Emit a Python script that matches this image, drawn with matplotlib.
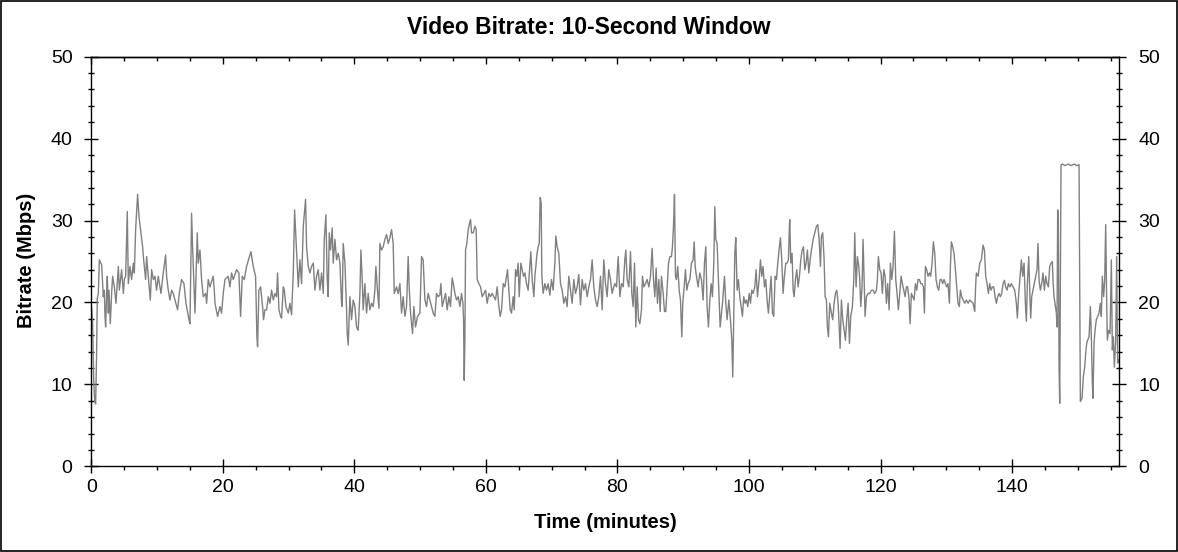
import matplotlib
matplotlib.use("Agg")
import matplotlib.pyplot as plt
from matplotlib.patches import Rectangle
from matplotlib.ticker import MultipleLocator
import numpy as np

# values, minutes vs Mbps, split by stretch of the film
t_00_26 = [0.05, 0.2, 0.36, 0.51, 0.66, 0.81, 0.91, 1.07, 1.22, 1.57, 1.83, 1.98, 2.08, 2.18, 2.33,
           2.43, 2.59, 2.69, 2.89, 3.09, 3.24, 3.5, 3.75, 4.11, 4.26, 4.61, 4.87, 5.02, 5.22, 5.47,
           5.63, 5.88, 6.13, 6.39, 6.54, 6.74, 7.04, 7.25, 7.55, 7.8, 7.96, 8.26, 8.41, 8.66, 8.97,
           9.17, 9.43, 9.68, 9.93, 10.18, 10.59, 10.94, 11.3, 11.45, 11.7, 11.96, 12.21, 12.46, 13.12,
           13.38, 13.73, 14.09, 14.39, 14.85, 15.0, 15.25, 15.4, 15.76, 16.11, 16.26, 16.52, 16.77,
           17.02, 17.38, 17.53, 17.78, 18.04, 18.54, 18.7, 18.8, 19.2, 19.56, 19.81, 20.06, 20.32,
           20.82, 21.08, 21.33, 21.58, 22.09, 22.44, 22.7, 22.95, 23.25, 23.61, 24.27, 24.62, 24.98,
           25.18, 25.28, 25.48, 25.74, 26.04, 26.19, 26.4]
v_00_26 = [19.3, 17.5, 10.5, 8.0, 7.6, 14.0, 20.5, 21.1, 25.2, 24.6, 20.7, 21.5, 18.3, 17.0, 21.1,
           23.2, 18.7, 21.5, 17.4, 21.1, 23.2, 21.9, 19.9, 24.4, 21.5, 24.0, 21.1, 22.8, 23.2, 31.1,
           22.3, 24.4, 22.8, 24.8, 23.6, 28.9, 33.2, 30.5, 28.5, 26.8, 25.2, 22.8, 25.6, 23.2, 20.3,
           24.0, 22.8, 23.2, 21.5, 23.2, 21.1, 23.6, 25.8, 23.2, 21.5, 20.3, 21.5, 21.1, 19.1,
           21.1, 22.8, 22.3, 19.9, 17.9, 17.4, 30.9, 26.8, 18.7, 28.5, 24.8, 26.4, 22.8,
           20.7, 21.1, 19.9, 22.8, 21.9, 23.2, 21.5, 19.9, 18.3, 19.5, 18.7, 21.1, 22.8,
           23.2, 21.9, 23.6, 22.8, 24.0, 23.6, 18.3, 23.2, 22.8, 24.4, 26.2, 24.4, 23.2,
           15.8, 14.6, 21.5, 21.9, 19.5, 17.9, 19.1]

t_26_53 = [26.65, 26.91, 27.16, 27.41, 27.67, 27.92, 28.17, 28.32, 28.53, 28.78, 28.93, 29.19, 29.34,
           29.59, 29.95, 30.2, 30.45, 30.71, 30.91, 31.21, 31.47, 31.72, 31.97, 32.23, 32.58, 32.73,
           32.99, 33.24, 33.49, 33.75, 34.0, 34.25, 34.5, 34.76, 35.01, 35.27, 35.42, 35.67, 35.87,
           36.02, 36.18, 36.38, 36.63, 36.78, 37.04, 37.29, 37.55, 37.8, 38.05, 38.15, 38.3, 38.56,
           38.81, 38.91, 39.06, 39.32, 39.57, 39.82, 40.08, 40.33, 40.58, 40.84, 40.99, 41.19, 41.34,
           41.6, 41.85, 42.1, 42.36, 42.61, 42.86, 43.12, 43.27, 43.47, 43.73, 43.88, 44.13, 44.38,
           44.64, 44.89, 45.14, 45.4, 45.65, 45.9, 46.06, 46.41, 46.66, 46.92, 47.17, 47.42, 47.68,
           47.93, 48.18, 48.33, 48.54, 48.84, 49.04, 49.3, 49.6, 49.96, 50.21, 50.46, 50.72, 50.97,
           51.22, 51.48, 51.73, 51.98, 52.24, 52.49, 52.74, 53.0]
v_26_53 = [19.1, 20.7, 19.9, 21.5, 20.3, 21.1, 20.7, 23.6, 19.1, 18.3, 18.1, 21.9, 21.5,
           19.5, 18.7, 19.9, 18.5, 23.6, 31.3, 26.4, 21.9, 25.2, 22.3, 29.3, 32.6, 26.8,
           24.4, 23.6, 24.4, 24.8, 21.5, 23.2, 24.0, 21.5, 23.6, 21.1, 27.7, 30.7, 22.8,
           20.7, 28.5, 26.4, 29.1, 24.8, 27.7, 25.2, 26.0, 24.8, 19.9, 19.5, 27.2, 24.8,
           19.1, 16.2, 14.8, 20.7, 17.9, 20.3, 19.5, 17.0, 16.6, 21.1, 26.4, 22.8, 19.1,
           22.3, 18.7, 21.1, 19.1, 19.9, 19.5, 21.5, 24.4, 21.9, 19.3, 27.2, 26.4, 26.8,
           27.7, 28.3, 27.2, 27.9, 28.9, 27.2, 21.1, 21.9, 21.1, 22.3, 18.7, 20.7, 18.3,
           19.5, 25.6, 21.9, 18.7, 16.2, 19.5, 17.0, 18.3, 18.7, 25.6, 25.2, 20.3, 19.5,
           21.1, 20.3, 19.5, 18.7, 18.3, 21.1, 20.7, 20.9]

t_53_79 = [53.15, 53.35, 53.61, 53.86, 54.11, 54.37, 54.62, 54.87, 55.13, 55.28, 55.53, 55.79, 56.04,
           56.29, 56.5, 56.6, 56.7, 56.8, 56.9, 57.1, 57.31, 57.51, 57.66, 57.81, 58.07, 58.32, 58.52,
           58.67, 58.93, 59.18, 59.43, 59.69, 59.94, 60.19, 60.45, 60.7, 60.95, 61.21, 61.46, 61.71,
           61.97, 62.17, 62.37, 62.63, 62.88, 63.13, 63.28, 63.49, 63.69, 63.89, 64.14, 64.3, 64.5,
           64.7, 64.9, 65.06, 65.31, 65.51, 65.71, 65.92, 66.17, 66.42, 66.68, 66.83, 67.03, 67.29,
           67.44, 67.59, 67.74, 67.94, 68.1, 68.25, 68.4, 68.5, 68.7, 68.96, 69.21, 69.46, 69.72,
           69.97, 70.22, 70.48, 70.63, 70.83, 71.08, 71.34, 71.59, 71.84, 72.1, 72.35, 72.6, 72.86,
           73.11, 73.36, 73.62, 73.87, 74.12, 74.38, 74.63, 74.88, 75.14, 75.39, 75.64, 75.9, 76.15,
           76.4, 76.66, 76.91, 77.16, 77.42, 77.67, 77.92, 78.18, 78.43, 78.68, 78.94, 79.19, 79.44]
v_53_79 = [22.3, 19.5, 20.3, 21.1, 19.1, 20.7, 19.5, 23.0, 21.9, 21.1, 20.3, 20.7, 19.5,
           21.1, 19.9, 17.9, 10.5, 15.4, 26.4, 27.2, 28.9, 29.7, 30.1, 28.5, 28.5, 29.3, 28.9,
           22.8, 22.3, 21.9, 20.7, 21.1, 21.5, 19.9, 21.1, 20.7, 21.1, 20.7, 20.3, 21.9,
           19.5, 18.3, 19.1, 22.3, 21.9, 23.2, 24.0, 21.5, 19.1, 18.7, 20.7, 19.1, 24.0,
           23.2, 24.8, 20.7, 24.8, 24.0, 23.2, 23.6, 22.3, 21.5, 24.4, 26.2, 22.8, 20.7,
           23.2, 24.4, 25.8, 26.8, 27.2, 32.8, 32.1, 23.2, 21.1, 22.3, 21.5, 22.3, 20.9,
           22.8, 21.5, 24.8, 28.1, 26.8, 26.0, 22.3, 21.5, 19.9, 20.7, 19.5, 23.2, 21.5,
           19.9, 22.8, 21.1, 21.9, 23.4, 19.7, 22.8, 21.5, 22.3, 20.7, 21.9, 22.8, 25.2,
           21.9, 20.3, 19.5, 20.7, 23.2, 19.1, 25.2, 22.3, 20.7, 24.0, 22.8, 21.1, 21.9]

t_79_106 = [79.6, 79.85, 80.11, 80.36, 80.61, 80.87, 81.12, 81.27, 81.47, 81.73, 81.98, 82.18, 82.39,
            82.59, 82.79, 82.99, 83.2, 83.4, 83.65, 83.8, 84.01, 84.26, 84.51, 84.77, 85.02, 85.27,
            85.48, 85.68, 85.88, 86.08, 86.29, 86.49, 86.69, 86.95, 87.15, 87.35, 87.55, 87.76,
            87.96, 88.21, 88.36, 88.52, 88.67, 88.82, 88.97, 89.17, 89.38, 89.58, 89.78, 89.93,
            90.14, 90.34, 90.54, 90.74, 91.0, 91.25, 91.5, 91.66, 91.81, 92.01, 92.26, 92.52, 92.77,
            93.02, 93.23, 93.43, 93.63, 93.83, 94.04, 94.24, 94.44, 94.65, 94.8, 94.95, 95.15, 95.41,
            95.61, 95.81, 96.01, 96.27, 96.47, 96.67, 96.93, 97.18, 97.38, 97.53, 97.69, 97.84, 97.99,
            98.19, 98.39, 98.6, 98.8, 99.0, 99.2, 99.41, 99.61, 99.81, 100.02, 100.22, 100.42, 100.62,
            100.88, 101.08, 101.28, 101.54, 101.74, 101.94, 102.14, 102.35, 102.55, 102.75, 102.95,
            103.16, 103.36, 103.56, 103.76, 103.97, 104.17, 104.37, 104.57, 104.78, 104.98, 105.18,
            105.38, 105.59, 105.79, 105.99, 106.15]
v_79_106 = [22.3, 21.9, 25.6, 20.7, 22.3, 21.9, 25.2, 26.4, 22.8, 21.9, 26.2, 21.1, 19.5,
            24.8, 17.0, 21.9, 17.9, 17.4, 19.1, 23.2, 21.9, 22.3, 22.8, 21.9, 23.2, 26.6,
            22.8, 20.7, 24.2, 19.9, 22.8, 18.9, 23.2, 21.1, 18.9, 18.9, 21.9, 24.8,
            25.6, 25.6, 26.8, 29.3, 33.2, 23.2, 22.8, 24.4, 21.5, 20.3, 15.8, 19.9,
            21.9, 24.0, 21.5, 22.3, 22.8, 24.8, 25.2, 27.4, 24.4, 23.2, 21.9, 23.6, 22.8,
            20.3, 24.8, 26.8, 19.5, 17.0, 20.3, 22.3, 20.7, 24.8, 31.7, 27.7, 27.2, 21.5,
            17.0, 18.7, 20.3, 23.2, 19.9, 17.9, 20.3, 17.9, 15.4, 10.9, 18.7, 26.0, 27.9,
            21.5, 22.8, 20.7, 19.5, 18.3, 20.7, 19.9, 20.3, 19.5, 21.1, 19.9, 21.5, 21.1,
            21.9, 24.0, 20.7, 22.8, 25.2, 23.2, 24.4, 21.9, 22.8, 20.3, 18.7,
            21.1, 23.2, 18.7, 18.3, 23.2, 22.8, 24.8, 26.4, 27.9, 25.2, 21.1,
            23.2, 24.8, 24.8, 25.2, 29.5]

t_106_133 = [106.2, 106.35, 106.55, 106.71, 106.86, 107.06, 107.26, 107.47, 107.67, 107.87, 108.07,
             108.28, 108.48, 108.68, 108.88, 109.09, 109.29, 109.49, 109.75, 110.0, 110.25, 110.46,
             110.66, 110.86, 111.01, 111.21, 111.42, 111.57, 111.77, 111.92, 112.08, 112.28, 112.53,
             112.73, 112.94, 113.14, 113.34, 113.55, 113.7, 113.85, 114.05, 114.25, 114.46, 114.66,
             114.86, 115.07, 115.27, 115.47, 115.72, 115.93, 116.08, 116.28, 116.48, 116.69, 116.84,
             116.99, 117.19, 117.34, 117.5, 117.65, 117.85, 118.1, 118.36, 118.61, 118.86, 119.12,
             119.37, 119.52, 119.67, 119.88, 120.08, 120.28, 120.49, 120.69, 120.89, 121.09, 121.3,
             121.5, 121.7, 121.9, 122.11, 122.31, 122.51, 122.71, 122.92, 123.12, 123.32, 123.53,
             123.73, 123.93, 124.13, 124.34, 124.49, 124.69, 124.89, 125.1, 125.3, 125.5, 125.7,
             125.91, 126.11, 126.31, 126.51, 126.67, 126.82, 127.02, 127.22, 127.43, 127.63, 127.83,
             128.03, 128.24, 128.44, 128.64, 128.84, 129.05, 129.25, 129.45, 129.65, 129.86, 130.06,
             130.26, 130.47, 130.62, 130.77, 130.97, 131.17, 131.38, 131.58, 131.78, 131.98, 132.14,
             132.34, 132.54, 132.8]
v_106_133 = [30.1, 24.8, 26.0, 21.5, 20.7, 22.8, 24.0, 21.9, 23.2, 25.2, 26.4,
             26.8, 24.0, 24.8, 26.4, 23.6, 25.2, 26.4, 27.7, 28.5, 29.3, 29.5,
             27.7, 24.4, 28.1, 28.5, 25.2, 20.7, 20.3, 17.0, 15.8, 19.9, 18.7,
             17.9, 19.9, 21.1, 21.5, 19.9, 17.0, 14.4, 20.3, 17.9, 16.6, 15.4,
             17.9, 19.9, 15.0, 18.3, 19.5, 22.8, 28.5, 21.9, 25.6, 24.4, 22.8,
             19.5, 21.9, 27.7, 22.8, 18.3, 20.7, 21.1, 21.1, 21.5, 21.5, 21.1,
             21.5, 22.8, 25.6, 24.0, 23.6, 21.1, 24.0, 23.2, 19.9, 22.3, 19.1,
             24.8, 22.8, 24.4, 28.7, 22.8, 21.1, 19.1, 21.1, 23.2, 22.3, 21.5,
             20.7, 21.9, 21.9, 20.3, 17.4, 21.1, 20.7, 20.3, 22.3, 21.5, 22.8,
             22.8, 22.3, 22.3, 21.9, 18.7, 24.4, 24.0, 23.2, 23.6, 23.2, 24.8,
             27.4, 26.0, 22.8, 21.9, 21.5, 22.8, 22.8, 22.3, 22.8, 22.3, 21.9,
             22.3, 19.9, 24.4, 27.4, 26.8, 26.0, 24.0, 21.9, 19.9, 19.5, 21.5,
             20.7, 20.3, 19.9]

t_133_end = [133.05, 133.31, 133.56, 133.81, 134.07, 134.32, 134.47, 134.57, 134.83, 135.08, 135.33,
             135.59, 135.79, 135.99, 136.19, 136.4, 136.6, 136.8, 137.0, 137.21, 137.41, 137.61,
             137.81, 138.02, 138.22, 138.42, 138.63, 138.83, 139.03, 139.23, 139.44, 139.64, 139.89,
             140.15, 140.4, 140.65, 140.8, 141.01, 141.21, 141.41, 141.61, 141.82, 142.02, 142.17,
             142.32, 142.53, 142.68, 142.83, 142.98, 143.18, 143.39, 143.59, 143.79, 143.94, 144.1,
             144.3, 144.5, 144.7, 144.91, 145.11, 145.31, 145.52, 145.72, 145.92, 146.12, 146.22,
             146.38, 146.58, 146.73, 146.83, 146.93, 147.03, 147.14, 147.24, 147.44, 147.7, 148.0,
             148.3, 148.6, 148.9, 149.2, 149.5, 149.8, 150.1, 150.18, 150.38, 150.63, 150.83, 151.04,
             151.19, 151.34, 151.49, 151.7, 151.9, 152.05, 152.2, 152.3, 152.46, 152.61, 152.81,
             153.01, 153.22, 153.42, 153.57, 153.72, 153.92, 154.08, 154.23, 154.38, 154.48, 154.68,
             154.89, 155.09, 155.24, 155.39, 155.55, 155.75, 155.9, 156.05, 156.2]
v_133_end = [20.3, 19.9, 20.3, 20.1, 19.9, 18.9, 22.3, 23.6, 23.2, 24.8, 25.2,
             27.0, 26.4, 23.2, 22.3, 21.1, 22.3, 21.5, 21.9, 21.9, 20.7, 19.9,
             20.7, 21.1, 20.7, 21.1, 22.3, 22.7, 21.9, 21.5, 22.3, 21.9, 22.3,
             21.9, 21.5, 19.9, 18.1, 21.1, 23.2, 25.2, 23.2, 24.8, 19.9, 17.7,
             22.3, 25.6, 21.5, 18.1, 20.7, 21.5, 22.3, 23.2, 24.0, 27.2, 22.7,
             21.5, 22.3, 23.6, 21.5, 23.2, 22.3, 21.9, 24.4, 24.8, 25.0, 22.7,
             20.7, 19.5, 18.7, 17.0, 31.3, 30.5, 12.1, 7.7, 36.8, 36.9, 36.7,
             36.8, 36.9, 36.7, 36.8, 36.9, 36.7, 36.8, 36.8, 7.9, 8.3, 10.9, 12.1,
             13.8, 15.0, 15.4, 15.8, 19.5, 15.8, 10.1, 8.3, 15.0, 16.6, 17.9,
             18.3, 18.7, 19.9, 18.3, 23.2, 20.7, 22.7, 29.5, 20.3, 15.4, 16.6,
             16.2, 25.2, 14.2, 15.8, 12.1, 15.4, 25.6, 12.6, 13.0]

time_min = np.concatenate([t_00_26, t_26_53, t_53_79, t_79_106, t_106_133, t_133_end])
bitrate = np.concatenate([v_00_26, v_26_53, v_53_79, v_79_106, v_106_133, v_133_end])

plt.rcParams['font.family'] = ['Liberation Sans', 'DejaVu Sans']

W, H = 1178, 552
fig = plt.figure(figsize=(W / 100, H / 100), dpi=100)
ax = fig.add_axes([91.3 / W, 85.7 / H, 1028 / W, 409.6 / H])

ax.plot(time_min, bitrate, color='#808080', linewidth=1.0)

ax.set_xlim(0, 156.3)
ax.set_ylim(0, 50)
ax.xaxis.set_major_locator(MultipleLocator(20))
ax.xaxis.set_minor_locator(MultipleLocator(5))
ax.yaxis.set_major_locator(MultipleLocator(10))
ax.yaxis.set_minor_locator(MultipleLocator(2))

for s in ax.spines.values():
    s.set_linewidth(1.0)

# left / right: crossing ticks, labels on both sides
ax.tick_params(axis='y', which='both', left=True, right=True, labelleft=True, labelright=True,
               direction='inout', width=1.0, labelsize=14)
ax.tick_params(axis='y', which='major', length=10, pad=8.5)
ax.tick_params(axis='y', which='minor', length=4)
# bottom: crossing majors, outward minors
ax.tick_params(axis='x', which='both', top=False, width=1.0, labelsize=14)
ax.tick_params(axis='x', which='major', direction='inout', length=10, pad=4.5)
ax.tick_params(axis='x', which='minor', direction='out', length=3)

# top: inward ticks only
top = ax.secondary_xaxis('top')
top.xaxis.set_major_locator(MultipleLocator(20))
top.xaxis.set_minor_locator(MultipleLocator(5))
top.tick_params(which='both', direction='in', width=1.0, labeltop=False)
top.tick_params(which='major', length=5)
top.tick_params(which='minor', length=3)
top.spines['top'].set_linewidth(1.0)

fig.text(0.5, 1 - 34.5 / H, 'Video Bitrate: 10-Second Window', ha='center', va='baseline',
         fontsize=16.5, fontweight='bold')
fig.text(605.3 / W, 1 - 523 / H, 'Time (minutes)', ha='center', va='center',
         fontsize=14.5, fontweight='bold')
fig.text(27 / W, 1 - 260 / H, 'Bitrate (Mbps)', ha='center', va='center', rotation=90,
         fontsize=14.5, fontweight='bold')

fig.patches.append(Rectangle((0.6 / W, 0.6 / H), 1 - 1.2 / W, 1 - 1.2 / H, transform=fig.transFigure,
                             fill=False, edgecolor='black', linewidth=1.2))

fig.savefig('out.png', dpi=100, facecolor='white')
